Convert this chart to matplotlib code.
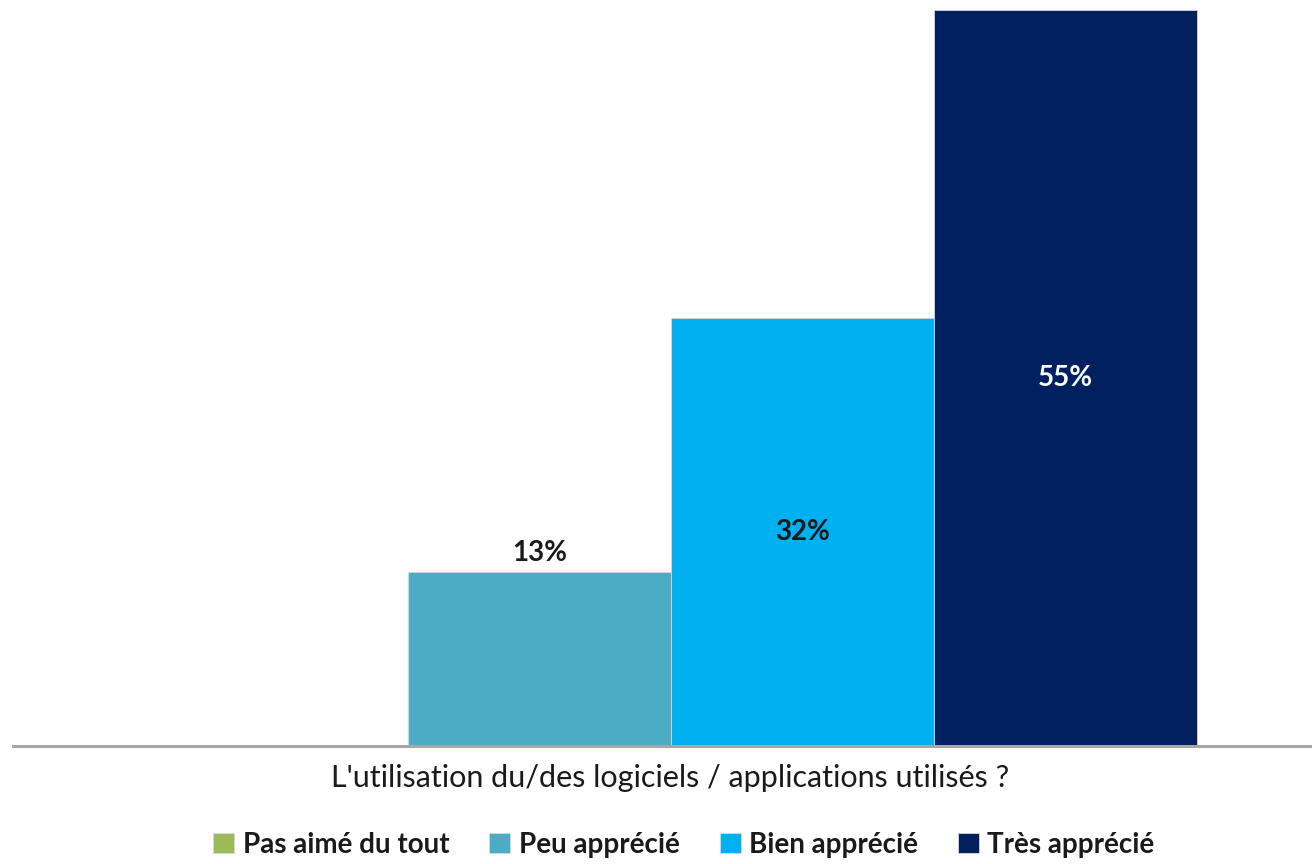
import numpy as np
import matplotlib.pyplot as plt

# Données
categorie = "L'utilisation du/des logiciels / applications utilisés ?"
series = ["Pas aimé du tout", "Peu apprécié", "Bien apprécié", "Très apprécié"]
valeurs = [0, 13, 32, 55]
couleurs = ["#9BBB59", "#4BACC6", "#00B0F0", "#002060"]
couleurs_txt = ["black", "#1a1a1a", "#1a1a1a", "white"]

plt.rcParams['font.family'] = ['Lato', 'DejaVu Sans']

fig = plt.figure(figsize=(13.12, 8.64), dpi=100)
# zone de tracé en pixels : gauche 13, bas 118
ax = fig.add_axes([13 / 1312, 118 / 864, 1 - 13 / 1312, 1 - 118 / 864])

n = len(series)
width = 1.0
x = np.arange(n) * width - width * (n - 1) / 2

for i, (nom, val) in enumerate(zip(series, valeurs)):
    ax.bar(x[i], val, width=width, color=couleurs[i], label=nom,
           edgecolor="#d9d9d9", linewidth=0.6)
    if val == 0:
        continue
    if val < 20:
        # étiquette au-dessus de la barre
        ax.annotate(f"{val}%", (x[i], val), xytext=(0, 4), textcoords="offset points",
                    ha="center", va="bottom", fontsize=20, fontweight="bold",
                    color=couleurs_txt[i])
    else:
        ax.text(x[i], val / 2, f"{val}%", ha="center", va="center",
                fontsize=20, fontweight="bold", color=couleurs_txt[i])

ax.set_xlim(-2.502, 2.437)
ax.set_ylim(0, 55.75)

for s in ["top", "right", "left"]:
    ax.spines[s].set_visible(False)
ax.spines["bottom"].set_color("#a6a6a6")
ax.spines["bottom"].set_linewidth(2.2)
ax.set_yticks([])
ax.set_xticks([])

fig.text(670 / 1312, 1 - 778 / 864, categorie, ha="center", va="center",
         fontsize=22, color="#1a1a1a")

leg = fig.legend(loc="center", bbox_to_anchor=(684 / 1312, 1 - 845 / 864), ncol=4,
                 frameon=False, handlelength=0.75, handleheight=0.75,
                 handletextpad=0.3, columnspacing=1.45, prop={"weight": "bold", "size": 20})
for t in leg.get_texts():
    t.set_color("#1a1a1a")

fig.savefig("out.png", dpi=100)
